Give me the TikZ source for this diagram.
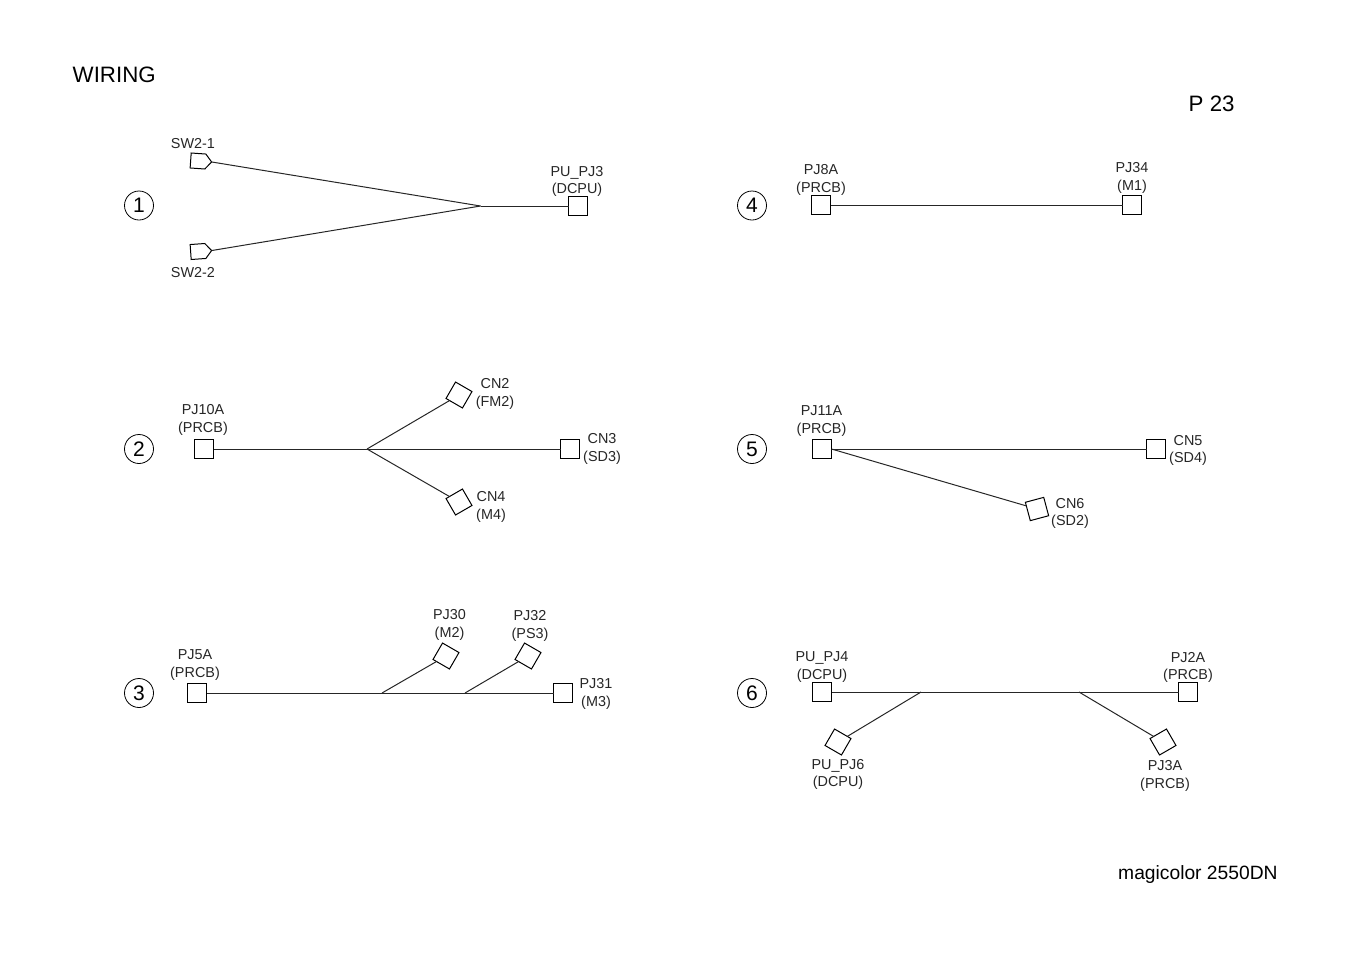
\documentclass[tikz,border=0pt]{standalone}
\usepackage{fontspec}
\setmainfont{Liberation Sans}
\usetikzlibrary{shapes.symbols}
\tikzset{
 wire/.style={line width=1pt,black!85},
 conn/.style={draw,line width=1pt,minimum size=19pt,inner sep=0pt,outer sep=0pt,fill=white},
 plug/.style={draw,line width=1pt,shape=signal,signal to=east,signal pointer angle=100,minimum width=21pt,minimum height=15pt,inner sep=0pt,outer sep=0pt},
 lbl/.style={font=\fontsize{14.4}{17.5}\selectfont,align=center,inner sep=0pt,text=black!85},
 num/.style={draw,circle,line width=0.8pt,minimum size=29pt,inner sep=0pt,font=\fontsize{21}{24}\selectfont},
 big/.style={font=\fontsize{22.3}{26}\selectfont,inner sep=0pt,anchor=west}
}
\begin{document}
\begin{tikzpicture}[x=1pt,y=-1pt]
\useasboundingbox (0,0) rectangle (1351,954);
\node[big] (title) at (72.500,75) {WIRING};
\node[big] (page) at (1188.500,103.500) {P 23};
\node[big,font=\fontsize{19.25}{24}\selectfont] (model) at (1118,874.500) {magicolor 2550DN};
% circles
\node[num] (n1) at (139,205.500) {1};
\node[num] (n2) at (139,449) {2};
\node[num] (n3) at (139,693) {3};
\node[num] (n4) at (752,205.500) {4};
\node[num] (n5) at (752,449) {5};
\node[num] (n6) at (752,693) {6};
% group 1
\node[plug,rotate=-4] (sw1) at (198,161) {};
\node[plug,rotate=4] (sw2) at (198,251.500) {};
\node[conn] (pj3) at (578,206) {};
\coordinate (j1) at (480.500,206);
\draw[wire] (sw1.east) -- (j1);
\draw[wire] (sw2.east) -- (j1);
\draw[wire] (j1) -- (pj3);
\node[lbl] (l1) at (193,144) {SW2-1};
\node[lbl] (l2) at (193,273) {SW2-2};
\node[lbl] (l3) at (577,181.500) {PU\_PJ3\\(DCPU)};
% group 2
\node[conn] (pj10) at (204,449) {};
\node[conn,rotate=-30] (cn2) at (459,395) {};
\node[conn] (cn3) at (570,449) {};
\node[conn,rotate=30] (cn4) at (459,502) {};
\coordinate (j2) at (367,449);
\draw[wire] (pj10) -- (j2);
\draw[wire] (j2) -- (cn2);
\draw[wire] (j2) -- (cn3);
\draw[wire] (j2) -- (cn4);
\node[lbl] (l4) at (203,420) {PJ10A\\(PRCB)};
\node[lbl] (l5) at (495,394) {CN2\\(FM2)};
\node[lbl] (l6) at (602,449) {CN3\\(SD3)};
\node[lbl] (l7) at (491,507) {CN4\\(M4)};
% group 3
\node[conn] (pj5) at (197,693) {};
\node[conn,rotate=-30] (pj30) at (446,656) {};
\node[conn,rotate=-30] (pj32) at (528,656) {};
\node[conn] (pj31) at (563,693) {};
\coordinate (j3a) at (382,693);
\coordinate (j3b) at (465,693);
\draw[wire] (pj5) -- (pj31);
\draw[wire] (j3a) -- (pj30);
\draw[wire] (j3b) -- (pj32);
\node[lbl] (l8) at (195,665) {PJ5A\\(PRCB)};
\node[lbl] (l9) at (449.500,625) {PJ30\\(M2)};
\node[lbl] (l10) at (530,626) {PJ32\\(PS3)};
\node[lbl] (l11) at (596,694) {PJ31\\(M3)};
% group 4
\node[conn] (pj8) at (821,205) {};
\node[conn] (pj34) at (1132,205) {};
\draw[wire] (pj8) -- (pj34);
\node[lbl] (l12) at (821,180) {PJ8A\\(PRCB)};
\node[lbl] (l13) at (1132,178) {PJ34\\(M1)};
% group 5
\node[conn] (pj11) at (822,449) {};
\node[conn] (cn5) at (1156,449) {};
\node[conn,rotate=15] (cn6) at (1037,509) {};
\draw[wire] (pj11) -- (cn5);
\draw[wire] (pj11.east) -- (cn6);
\node[lbl] (l14) at (821.500,421) {PJ11A\\(PRCB)};
\node[lbl] (l15) at (1188,450.500) {CN5\\(SD4)};
\node[lbl] (l16) at (1070,513.500) {CN6\\(SD2)};
% group 6
\node[conn] (pu4) at (822,692) {};
\node[conn] (pj2) at (1188,692) {};
\node[conn,rotate=-30] (pu6) at (838,742) {};
\node[conn,rotate=30] (pj3a) at (1163,742) {};
\coordinate (j6a) at (921,692);
\coordinate (j6b) at (1079,692);
\draw[wire] (pu4) -- (pj2);
\draw[wire] (j6a) -- (pu6);
\draw[wire] (j6b) -- (pj3a);
\node[lbl] (l17) at (822,667) {PU\_PJ4\\(DCPU)};
\node[lbl] (l18) at (1188,667.500) {PJ2A\\(PRCB)};
\node[lbl] (l19) at (838,774.500) {PU\_PJ6\\(DCPU)};
\node[lbl] (l20) at (1165,776) {PJ3A\\(PRCB)};
\end{tikzpicture}
\end{document}
